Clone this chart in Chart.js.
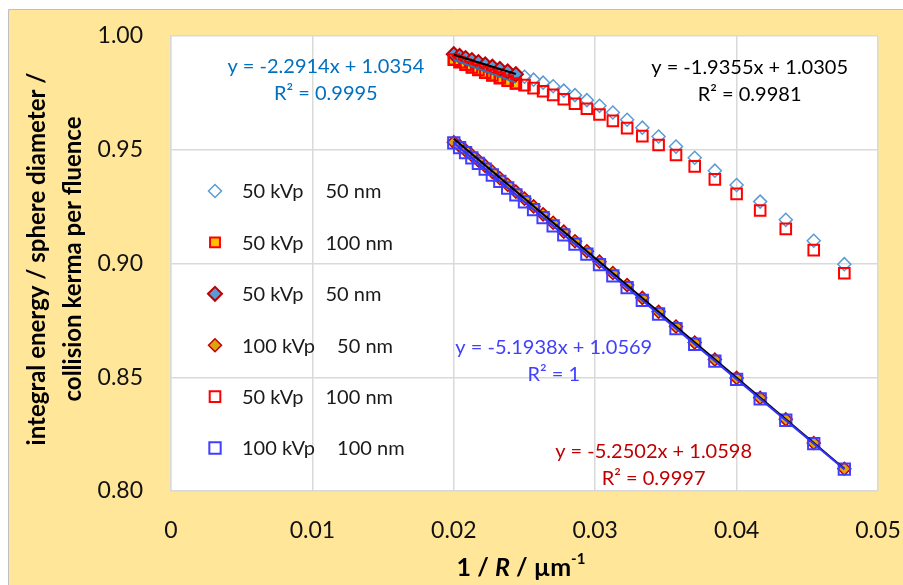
<!DOCTYPE html>
<html>
<head>
<meta charset="utf-8">
<script src="https://cdn.jsdelivr.net/npm/chart.js@4.4.0/dist/chart.umd.min.js"></script>
<style>
  body { margin: 0; background: #fff; }
  #wrap { width: 903px; height: 585px; }
</style>
</head>
<body>
<div id="wrap"><canvas id="chart" width="903" height="585"></canvas></div>
<script>
// 1/R for R = 50 ... 21 um
const invR = [0.02, 0.020408, 0.020833, 0.021277, 0.021739, 0.022222, 0.022727, 0.023256, 0.02381, 0.02439,
  0.025, 0.025641, 0.026316, 0.027027, 0.027778, 0.028571, 0.029412, 0.030303, 0.03125, 0.032258,
  0.033333, 0.034483, 0.035714, 0.037037, 0.038462, 0.04, 0.041667, 0.043478, 0.045455, 0.047619];

const kv50nm50open = [0.9920, 0.9912, 0.9903, 0.9894, 0.9885, 0.9875, 0.9865, 0.9855, 0.9844, 0.9832,
  0.9821, 0.9808, 0.9795, 0.9779, 0.9760, 0.9740, 0.9718, 0.9693, 0.9664, 0.9632,
  0.9597, 0.9558, 0.9514, 0.9465, 0.9408, 0.9345, 0.9272, 0.9192, 0.9100, 0.8997];
const kv50nm100filled = [0.9896, 0.9885, 0.9874, 0.9862, 0.9851, 0.9839, 0.9827, 0.9815, 0.9803, 0.9791];
const kv50nm50filled = [0.9920, 0.9912, 0.9903, 0.9894, 0.9885, 0.9875, 0.9865, 0.9855, 0.9844, 0.9832];
const kv100nm50 = [0.9533, 0.9517, 0.9497, 0.9476, 0.9453, 0.9429, 0.9403, 0.9375, 0.9346, 0.9316,
  0.9285, 0.9251, 0.9216, 0.9179, 0.9140, 0.9098, 0.9054, 0.9008, 0.8958, 0.8905,
  0.8849, 0.8788, 0.8723, 0.8653, 0.8578, 0.8497, 0.8410, 0.8315, 0.8211, 0.8098];
const kv50nm100open = [0.9896, 0.9885, 0.9874, 0.9862, 0.9851, 0.9839, 0.9827, 0.9815, 0.9803, 0.9791,
  0.9784, 0.9771, 0.9757, 0.9741, 0.9722, 0.9702, 0.9680, 0.9655, 0.9627, 0.9595,
  0.9560, 0.9521, 0.9477, 0.9427, 0.9370, 0.9306, 0.9233, 0.9152, 0.9059, 0.8957];
const kv100nm100 = [0.9530, 0.9509, 0.9487, 0.9464, 0.9440, 0.9415, 0.9389, 0.9361, 0.9332, 0.9302,
  0.9271, 0.9237, 0.9202, 0.9165, 0.9126, 0.9085, 0.9041, 0.8995, 0.8946, 0.8894,
  0.8838, 0.8778, 0.8714, 0.8645, 0.8571, 0.8491, 0.8405, 0.8311, 0.8208, 0.8096];

const seriesLabels = ['50 kVp   50 nm', '50 kVp   100 nm', '50 kVp   50 nm',
  '100 kVp   50 nm', '50 kVp   100 nm', '100 kVp   100 nm'];

const xTicks = [0, 0.01, 0.02, 0.03, 0.04, 0.05];
const yTicks = [0.80, 0.85, 0.90, 0.95, 1.00];

// linear trendlines as printed on the chart
const fitSlopes = [-2.2914, -1.9355, -5.1938, -5.2502];
const fitIntercepts = [1.0354, 1.0305, 1.0569, 1.0598];
const fitR2 = ['0.9995', '0.9981', '1', '0.9997'];
const fitLastIndex = [9, 9, 29, 29];

const FONT = 'Lato, "Open Sans", sans-serif';

function pts(ys) {
  return ys.map((y, i) => ({ x: invR[i], y: y }));
}

function fitLine(k) {
  const x0 = invR[0], x1 = invR[fitLastIndex[k]];
  return [
    { x: x0, y: fitSlopes[k] * x0 + fitIntercepts[k] },
    { x: x1, y: fitSlopes[k] * x1 + fitIntercepts[k] }
  ];
}

const markerSets = [
  { data: kv50nm50open, pointStyle: 'rectRot', radius: 6.5, bg: 'rgba(255,255,255,0)', border: '#5B9BD5', bw: 1.5, order: 16 },
  { data: kv50nm100filled, pointStyle: 'rect', radius: 7, bg: '#FFC000', border: '#FF0000', bw: 2, order: 15 },
  { data: kv50nm50filled, pointStyle: 'rectRot', radius: 7, bg: '#5B9BD5', border: '#C00000', bw: 2, order: 14 },
  { data: kv100nm50, pointStyle: 'rectRot', radius: 6.5, bg: '#DDA20C', border: '#C00000', bw: 1.5, order: 13 },
  { data: kv50nm100open, pointStyle: 'rect', radius: 7.5, bg: 'rgba(255,255,255,0)', border: '#FF0000', bw: 2, order: 12 },
  { data: kv100nm100, pointStyle: 'rect', radius: 8, bg: 'rgba(255,255,255,0)', border: '#3F3FFF', bw: 2, order: 11 }
];

const datasets = markerSets.map((s, i) => ({
  label: seriesLabels[i],
  data: pts(s.data),
  showLine: false,
  pointStyle: s.pointStyle,
  pointRadius: s.radius,
  pointBackgroundColor: s.bg,
  pointBorderColor: s.border,
  pointBorderWidth: s.bw,
  order: s.order
}));

const fitColors = ['#2E75B6', '#000000', '#3333FF', '#000000'];
const fitOrders = [3, 2, 1, 4];
fitSlopes.forEach((s, k) => {
  datasets.push({
    label: 'fit' + k,
    data: fitLine(k),
    showLine: true,
    borderColor: fitColors[k],
    borderWidth: 2,
    pointRadius: 0,
    order: fitOrders[k]
  });
});

// where the equation boxes sit (data coords of line 1 centre) and their colours
const eqBoxes = [
  { x: 0.01095, y: 0.9865, color: '#0070C0' },
  { x: 0.04092, y: 0.9862, color: '#000000' },
  { x: 0.02707, y: 0.8630, color: '#4040FF' },
  { x: 0.03413, y: 0.8173, color: '#C00000' }
];

function noScalePadding(s) {
  s.paddingLeft = 0;
  s.paddingRight = 0;
  s.paddingTop = 0;
  s.paddingBottom = 0;
}

const decorPlugin = {
  id: 'decor',
  beforeDraw(chart) {
    const ctx = chart.ctx;
    const a = chart.chartArea;
    ctx.save();
    ctx.fillStyle = '#ffffff';
    ctx.fillRect(0, 0, chart.width, chart.height);
    ctx.fillStyle = '#FFE699';
    ctx.fillRect(9, 10, chart.width - 9, chart.height - 10);
    ctx.strokeStyle = '#BFBFBF';
    ctx.lineWidth = 1;
    ctx.beginPath();
    ctx.moveTo(8.5, chart.height);
    ctx.lineTo(8.5, 9.5);
    ctx.lineTo(chart.width, 9.5);
    ctx.stroke();
    ctx.fillStyle = '#ffffff';
    ctx.fillRect(a.left, a.top, a.right - a.left, a.bottom - a.top);
    ctx.restore();
  },
  afterDraw(chart) {
    const ctx = chart.ctx;
    const xs = chart.scales.x, ys = chart.scales.y;
    ctx.save();

    // trendline equations
    ctx.font = '20px ' + FONT;
    ctx.textAlign = 'center';
    ctx.textBaseline = 'middle';
    eqBoxes.forEach((b, k) => {
      const px = xs.getPixelForValue(b.x), py = ys.getPixelForValue(b.y);
      const sl = fitSlopes[k].toFixed(4), ic = fitIntercepts[k].toFixed(4);
      ctx.fillStyle = b.color;
      ctx.fillText('y = ' + sl + 'x + ' + ic, px, py);
      ctx.fillText('R\u00B2 = ' + fitR2[k], px, py + 27);
    });

    // legend inside the plot
    ctx.textAlign = 'left';
    ctx.font = '20px ' + FONT;
    const lx = 215, tx = 242, ly0 = 191, dy = 51.4;
    markerSets.forEach((s, i) => {
      const y = ly0 + i * dy;
      ctx.fillStyle = s.bg === 'rgba(255,255,255,0)' ? '#ffffff' : s.bg;
      ctx.strokeStyle = s.border;
      ctx.lineWidth = s.bw;
      Chart.helpers.drawPoint(ctx, { pointStyle: s.pointStyle, radius: s.radius, rotation: 0, borderWidth: s.bw }, lx, y);
      const parts = seriesLabels[i].split(/\s{2,}/);
      ctx.fillStyle = '#1a1a1a';
      ctx.fillText(parts[0], tx, y + 1);
      ctx.fillText(parts[1], tx + ctx.measureText(parts[0]).width + 22, y + 1);
    });

    // y axis title (two lines, rotated)
    ctx.fillStyle = '#000';
    ctx.font = 'bold 24px ' + FONT;
    ctx.textAlign = 'center';
    ctx.translate(0, 259);
    ctx.rotate(-Math.PI / 2);
    ctx.fillText('integral energy / sphere diameter /', 0, 37);
    ctx.fillText('collision kerma per fluence', 0, 73);
    ctx.setTransform(1, 0, 0, 1, 0, 0);

    // x axis title: 1 / R / um^-1 with italic R and superscript
    const segs = [
      { t: '1 / ', f: 'bold 25px ' + FONT, dy: 0 },
      { t: 'R', f: 'italic bold 25px ' + FONT, dy: 0 },
      { t: ' / \u00B5m', f: 'bold 25px ' + FONT, dy: 0 },
      { t: '-1', f: 'bold 15px ' + FONT, dy: -9 }
    ];
    let total = 0;
    segs.forEach(s => { ctx.font = s.f; s.w = ctx.measureText(s.t).width; total += s.w; });
    let cx = 521 - total / 2;
    ctx.textAlign = 'left';
    segs.forEach(s => {
      ctx.font = s.f;
      ctx.fillText(s.t, cx, 568 + s.dy);
      cx += s.w;
    });
    ctx.restore();
  }
};

new Chart(document.getElementById('chart'), {
  type: 'scatter',
  data: { datasets: datasets },
  options: {
    responsive: false,
    animation: false,
    layout: { padding: { top: 36, right: 25, left: 0, bottom: 0 } },
    plugins: { legend: { display: false }, tooltip: { enabled: false } },
    scales: {
      x: {
        type: 'linear',
        min: 0,
        max: 0.05,
        afterBuildTicks: s => { s.ticks = xTicks.map(v => ({ value: v })); },
        afterFit: s => { s.height = 94; noScalePadding(s); },
        grid: { color: '#D9D9D9', lineWidth: 1.5, drawTicks: false },
        border: { color: '#D9D9D9', width: 1.5 },
        ticks: {
          padding: 26,
          color: '#111',
          font: { family: FONT, size: 23 },
          callback: v => (v === 0 ? '0' : v.toFixed(2))
        }
      },
      y: {
        type: 'linear',
        min: 0.8,
        max: 1.0,
        afterBuildTicks: s => { s.ticks = yTicks.map(v => ({ value: v })); },
        afterFit: s => { s.width = 171; noScalePadding(s); },
        grid: { color: '#D9D9D9', lineWidth: 1.5, drawTicks: false },
        border: { color: '#D9D9D9', width: 1.5 },
        ticks: {
          padding: 28,
          color: '#111',
          font: { family: FONT, size: 23 },
          callback: v => v.toFixed(2)
        }
      }
    }
  },
  plugins: [decorPlugin]
});
</script>
</body>
</html>
